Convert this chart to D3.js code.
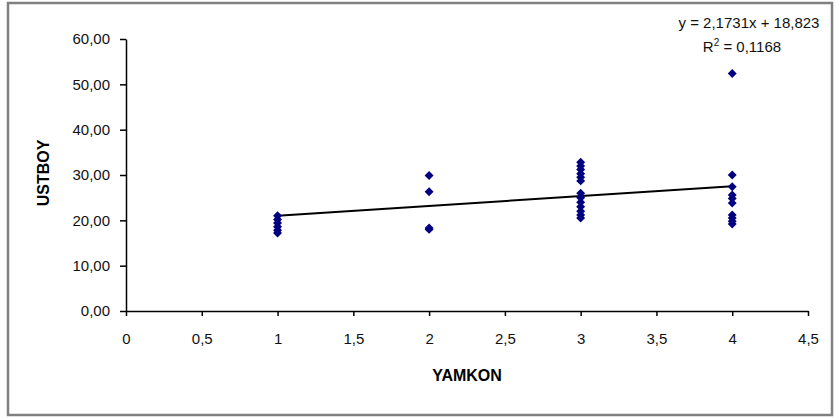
<!DOCTYPE html>
<html>
<head>
<meta charset="utf-8">
<script src="https://cdn.jsdelivr.net/npm/d3@7"></script>
<style>
    body { margin: 0; background: #fff; }
    svg { display: block; font-family: "Liberation Sans", Arial, sans-serif; }
    .axis text { font-size: 15px; fill: #111; }
    .axis path, .axis line { stroke: #000; stroke-width: 1.5; }
    .title { font-size: 16px; font-weight: bold; fill: #000; }
    .eq { font-size: 15px; fill: #111; }
</style>
</head>
<body>
<div id="chart"></div>
<script>
// YAMKON (x) and USTBOY (y)
const yamkon = [
    1, 1, 1, 1, 1, 1,
    2, 2, 2, 2,
    3, 3, 3, 3, 3, 3, 3, 3, 3, 3, 3, 3, 3,
    4, 4, 4, 4, 4, 4, 4, 4, 4, 4
];
const ustboy = [
    21.0, 20.2, 19.4, 18.6, 17.8, 17.2,
    29.9, 26.3, 18.3, 18.0,
    32.8, 32.0, 31.2, 30.3, 29.5, 28.7, 26.0, 25.0, 24.0, 23.0, 22.0, 21.2, 20.5,
    52.4, 30.0, 27.4, 25.6, 24.8, 23.8, 21.2, 20.5, 19.8, 19.2
];
const xTicks = [0, 0.5, 1, 1.5, 2, 2.5, 3, 3.5, 4, 4.5];
const yTicks = [0, 10, 20, 30, 40, 50, 60];

// trend line from the chart label
const slope = 2.1731;
const intercept = 18.823;
const eqLabel = 'y = 2,1731x + 18,823';
const r2Label = '0,1168';

const W = 839, H = 419;
const margin = { top: 39, right: 31, bottom: 108, left: 126 };
const width = W - margin.left - margin.right,
    height = H - margin.top - margin.bottom;

const svg = d3.select('#chart')
    .append('svg')
    .attr('width', W)
    .attr('height', H);

// outer frame
svg.append('rect')
    .attr('x', 8).attr('y', 3)
    .attr('width', 824).attr('height', 412)
    .attr('fill', 'none')
    .attr('stroke', '#808080')
    .attr('stroke-width', 2.5);

const g = svg.append('g')
    .attr('transform', `translate(${margin.left},${margin.top})`);

const x = d3.scaleLinear().domain([0, 4.5]).range([0, width]);
const y = d3.scaleLinear().domain([0, 60]).range([height, 0]);

const comma = s => s.replace('.', ',');

g.append('g')
    .attr('class', 'x axis')
    .attr('transform', `translate(0,${height})`)
    .call(d3.axisBottom(x)
        .tickValues(xTicks)
        .tickSize(5)
        .tickSizeOuter(0)
        .tickPadding(17)
        .tickFormat(d => comma(String(d))));

g.append('g')
    .attr('class', 'y axis')
    .call(d3.axisLeft(y)
        .tickValues(yTicks)
        .tickSize(6)
        .tickSizeOuter(0)
        .tickPadding(10)
        .tickFormat(d => comma(d3.format('.2f')(d))));

// trend line
const line = d3.line()
    .x(d => x(d))
    .y(d => y(slope * d + intercept));

g.append('path')
    .datum([d3.min(yamkon), d3.max(yamkon)])
    .attr('fill', 'none')
    .attr('stroke', '#000')
    .attr('stroke-width', 2)
    .attr('d', line);

// points
const diamond = d3.symbol().type(d3.symbolSquare).size(40);
g.selectAll('.dot')
    .data(yamkon.map((v, i) => [v, ustboy[i]]))
    .enter()
    .append('path')
    .attr('class', 'dot')
    .attr('d', diamond)
    .attr('fill', '#000080')
    .attr('transform', d => `translate(${x(d[0])},${y(d[1])}) rotate(45)`);

// axis titles
svg.append('text')
    .attr('class', 'title')
    .attr('x', margin.left + width / 2)
    .attr('y', 381)
    .attr('text-anchor', 'middle')
    .text('YAMKON');

svg.append('text')
    .attr('class', 'title')
    .attr('transform', `translate(49,${margin.top + height / 2 - 2}) rotate(-90)`)
    .attr('text-anchor', 'middle')
    .text('USTBOY');

// equation label
const eq = svg.append('text')
    .attr('class', 'eq')
    .attr('text-anchor', 'middle');
eq.append('tspan')
    .attr('x', 749).attr('y', 28)
    .text(eqLabel);
const r2 = eq.append('tspan')
    .attr('x', 742).attr('y', 52);
r2.append('tspan').text('R');
r2.append('tspan').attr('dy', -6).attr('font-size', 10).text('2');
r2.append('tspan').attr('dy', 6).text(' = ' + r2Label);
</script>
</body>
</html>
